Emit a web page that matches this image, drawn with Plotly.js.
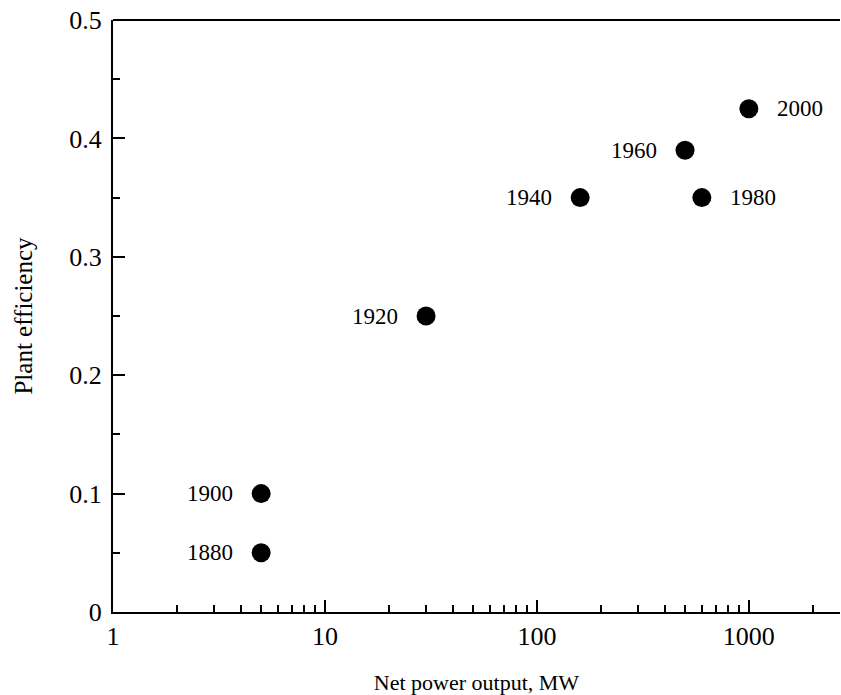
<!DOCTYPE html>
<html>
<head>
<meta charset="utf-8">
<script src="https://cdn.plot.ly/plotly-3.0.1.min.js"></script>
<style>html,body{margin:0;padding:0;background:#fff;}#chart{width:841px;height:695px;}</style>
</head>
<body>
<div id="chart"></div>
<script>
var years = ["1880", "1900", "1920", "1940", "1960", "1980", "2000"];
var powerMW = [5, 5, 30, 160, 500, 600, 1000];
var efficiency = [0.05, 0.10, 0.25, 0.35, 0.39, 0.35, 0.425];
var labelSide = ["left", "left", "left", "left", "left", "right", "right"];
var xMajorTicks = [1, 10, 100, 1000];
var xMajorLabels = ["1", "10", "100", "1000"];
var xMinorTicks = [2,3,4,5,6,7,8,9,20,30,40,50,60,70,80,90,200,300,400,500,600,700,800,900,2000];
var yMajorTicks = [0, 0.1, 0.2, 0.3, 0.4, 0.5];
var yMajorLabels = ["0", "0.1", "0.2", "0.3", "0.4", "0.5"];

var serif = "Liberation Serif, Times New Roman, serif";

var trace = {
  x: powerMW,
  y: efficiency,
  mode: "markers",
  type: "scatter",
  marker: {size: 19, color: "#000"},
  hoverinfo: "none",
  cliponaxis: false
};

var annotations = years.map(function(label, i) {
  var left = labelSide[i] === "left";
  return {
    x: Math.log10(powerMW[i]),
    y: efficiency[i],
    xref: "x", yref: "y",
    text: label,
    showarrow: false,
    xanchor: left ? "right" : "left",
    yanchor: "middle",
    xshift: left ? -26 : 26,
    font: {family: serif, size: 23, color: "#000"}
  };
});

var layout = {
  width: 841,
  height: 695,
  margin: {l: 113, r: 1, t: 20, b: 83},
  paper_bgcolor: "#fff",
  plot_bgcolor: "#fff",
  showlegend: false,
  font: {family: serif, color: "#000"},
  annotations: annotations,
  xaxis: {
    type: "log",
    range: [0, 3.43],
    tickmode: "array",
    tickvals: xMajorTicks,
    ticktext: xMajorLabels,
    ticks: "inside",
    ticklen: 12,
    tickwidth: 2,
    tickcolor: "#000",
    tickfont: {family: serif, size: 26, color: "#000"},
    showgrid: false,
    zeroline: false,
    showline: true,
    linecolor: "#000",
    linewidth: 2,
    mirror: false,
    minor: {tickmode: "array", tickvals: xMinorTicks, ticks: "inside", ticklen: 7, tickwidth: 2, tickcolor: "#000", showgrid: false},
    title: {text: "Net power output, MW", font: {family: serif, size: 22, color: "#000"}, standoff: 26}
  },
  yaxis: {
    range: [0, 0.5],
    tickmode: "array",
    tickvals: yMajorTicks,
    ticktext: yMajorLabels,
    ticks: "inside",
    ticklen: 12,
    tickwidth: 2,
    tickcolor: "#000",
    tickfont: {family: serif, size: 26, color: "#000"},
    ticklabelstandoff: 4,
    showgrid: false,
    zeroline: false,
    showline: true,
    linecolor: "#000",
    linewidth: 2,
    minor: {dtick: 0.05, ticks: "inside", ticklen: 7, tickwidth: 2, tickcolor: "#000", showgrid: false},
    title: {text: "Plant efficiency", font: {family: serif, size: 25, color: "#000"}, standoff: 30}
  },
  shapes: [{
    type: "line", xref: "paper", yref: "paper", x0: 0, x1: 1, y0: 1, y1: 1,
    line: {color: "#000", width: 2}
  }]
};

Plotly.newPlot("chart", [trace], layout, {staticPlot: true, displayModeBar: false});
</script>
</body>
</html>
